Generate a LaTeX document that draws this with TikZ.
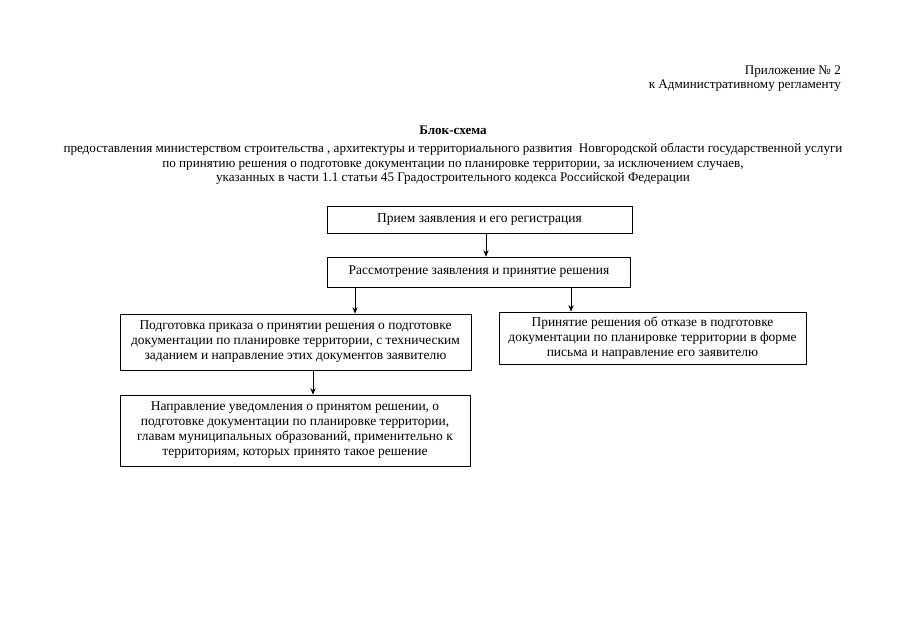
\documentclass[tikz,border=0pt]{standalone}
\usepackage{fontspec}
\setmainfont{Liberation Serif}
\usetikzlibrary{arrows.meta}
\newcommand*{\boxfont}{\fontsize{11.5}{12.8}\selectfont}
\newcommand*{\headfont}{\fontsize{11.2}{12.4}\selectfont}
\tikzset{
  stepbox/.style={draw, line width=0.6pt, align=center, inner sep=2pt, font=\boxfont},
  flow/.style={-{Stealth[length=5.5pt,width=4.5pt]}, line width=0.6pt}
}

\begin{document}
\begin{tikzpicture}[x=0.03cm,y=-0.03cm]
    \useasboundingbox (0,0) rectangle (905,640);

    \node [anchor=base east, font=\headfont] (appx) at (845,74) {Приложение № 2};
    \node [anchor=base east, font=\headfont] (appy) at (845,88) {к Административному регламенту};

    \node [font=\headfont\bfseries] (title) at (453,130) {Блок-схема};
    \node [font=\headfont, align=center, anchor=north] (subtitle) at (453,139)
      {предоставления министерством строительства , архитектуры и территориального развития\ \ Новгородской области государственной услуги\\
       по принятию решения о подготовке документации по планировке территории, за исключением случаев,\\
       указанных в части 1.1 статьи 45 Градостроительного кодекса Российской Федерации};

    \node [stepbox, minimum width=9.15cm, minimum height=0.81cm] (recv) at (479.5,219.5)
      {Прием заявления и его регистрация};
    \node [stepbox, minimum width=9.09cm, minimum height=0.9cm] (review) at (479,272)
      {Рассмотрение заявления и принятие решения};
    \node [stepbox, minimum width=10.53cm, minimum height=1.68cm] (order) at (295.5,342)
      {Подготовка приказа о принятии решения о подготовке\\
       документации по планировке территории, с техническим\\
       заданием и направление этих документов заявителю};
    \node [stepbox, minimum width=9.21cm, minimum height=1.56cm] (refuse) at (652.5,338)
      {Принятие решения об отказе в подготовке\\
       документации по планировке территории в форме\\
       письма и направление его заявителю};
    \node [stepbox, minimum width=10.5cm, minimum height=2.13cm] (notify) at (295,430.5)
      {Направление уведомления о принятом решении, о\\
       подготовке документации по планировке территории,\\
       главам муниципальных образований, применительно к\\
       территориям, которых принято такое решение};

    \coordinate (ka) at (486,0);
    \coordinate (kb) at (355,0);
    \coordinate (kc) at (571,0);
    \coordinate (kd) at (313,0);

    \draw [flow] (recv.south -| ka) -- (review.north -| ka);
    \draw [flow] (review.south -| kb) -- (order.north -| kb);
    \draw [flow] (review.south -| kc) -- (refuse.north -| kc);
    \draw [flow] (order.south -| kd) -- (notify.north -| kd);
  \end{tikzpicture}
\end{document}
